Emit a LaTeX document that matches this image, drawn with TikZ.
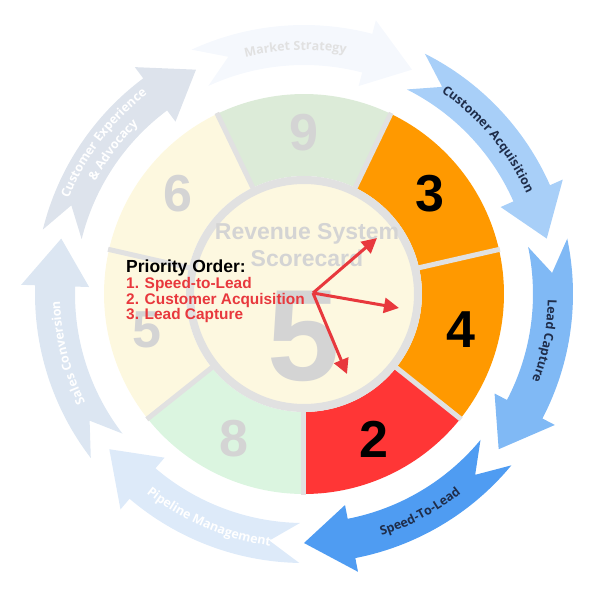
\documentclass[tikz,border=0pt]{standalone}
\usepackage{fontspec}
\setmainfont{Liberation Sans}
\newfontfamily\arcfont{Open Sans}
\usetikzlibrary{arrows.meta, decorations.text}

\definecolor{segorange}{HTML}{FF9900}
\definecolor{segred}{HTML}{FF3636}
\definecolor{seggreen}{HTML}{DCEBD8}
\definecolor{segmint}{HTML}{DBF5E0}
\definecolor{segcream}{HTML}{FDF8DF}
\definecolor{hubcream}{HTML}{FDF8E0}
\definecolor{gapgrey}{HTML}{E1E1E1}
\definecolor{fadenum}{HTML}{D4D4D4}
\definecolor{prioRed}{HTML}{E8383D}
\definecolor{navy}{HTML}{1F2D4A}
\definecolor{blueA}{HTML}{A8CFF8}
\definecolor{blueB}{HTML}{80B9F5}
\definecolor{blueC}{HTML}{4F9CF2}
\definecolor{paleA}{HTML}{F5F8FD}
\definecolor{paleB}{HTML}{DDE3EC}
\definecolor{paleC}{HTML}{DCE6F2}
\definecolor{paleD}{HTML}{DDEAF9}

\tikzset{
  segnum/.style = {font=\bfseries\fontsize{52}{52}\selectfont},
  arclabel/.style 2 args = {decorate, decoration={text along path, text align=center,
      text={|\arcfont\bfseries\fontsize{12.5}{12.5}\selectfont\color{#1}|#2}}},
  pointer/.style = {prioRed, line width=3pt, -{Triangle[length=15pt, width=15pt]}}
}

% ring arrow: tail angle, head angle, colour
\newcommand\ringarrow[3]{
  \fill[#3] ({#1-1}:269) arc[start angle={#1-1}, end angle={#2+11}, radius=269]
    -- ({#2+11}:283) -- (#2:249) -- ({#2+11}:215) -- ({#2+11}:229)
    arc[start angle={#2+11}, end angle={#1-1}, radius=229] -- ({#1-8}:249) -- cycle;
}

\begin{document}
\begin{tikzpicture}[x=1pt, y=1pt]
\useasboundingbox (-304,-306) rectangle (296,294);

% outer cycle of arrows
\ringarrow{115.71}{64.29}{paleA}
\ringarrow{64.29}{12.86}{blueA}
\ringarrow{12.86}{-38.57}{blueB}
\ringarrow{-38.57}{-90}{blueC}
\ringarrow{-90}{-141.43}{paleD}
\ringarrow{218.57}{167.14}{paleC}
\ringarrow{167.14}{115.71}{paleB}

\path[arclabel={gapgrey}{Market Strategy}]
  (112:244) arc[start angle=112, end angle=72, radius=244];
\path[arclabel={navy}{Customer Acquisition}]
  (62:244) arc[start angle=62, end angle=18, radius=244];
\path[arclabel={navy}{Lead Capture}]
  (11:244) arc[start angle=11, end angle=-33, radius=244];
\path[arclabel={navy}{Speed-To-Lead}]
  (-84:254) arc[start angle=-84, end angle=-40, radius=254];
\path[arclabel={white}{Pipeline Management}]
  (-136:254) arc[start angle=-136, end angle=-90, radius=254];
\path[arclabel={white}{Sales Conversion}]
  (216:244) arc[start angle=216, end angle=172, radius=244];
\path[arclabel={white}{Customer Experience}]
  (166:254) arc[start angle=166, end angle=120, radius=254];
\path[arclabel={white}{{\&} Advocacy}]
  (166:237) arc[start angle=166, end angle=120, radius=237];

% scorecard segments
\foreach \a/\col/\num/\txt in {12.86/segorange/3/black, 64.29/seggreen/9/fadenum,
    115.71/segcream/6/fadenum, 167.14/segcream/5/fadenum, 218.57/segmint/8/fadenum,
    270/segred/2/black, 321.43/segorange/4/black}{
  \fill[\col] (\a:118) arc[start angle=\a, end angle={\a+51.43}, radius=118]
    -- ({\a+51.43}:200) arc[start angle={\a+51.43}, end angle=\a, radius=200] -- cycle;
  \node[segnum, text=\txt] (seg\num) at ({\a+25.7}:161) {\num};
}
\foreach \a in {12.86, 64.29, 115.71, 167.14, 218.57, 270, 321.43}
  \draw[gapgrey, line width=5pt] (\a:114) -- (\a:201);

% hub
\fill[hubcream] (0,0) circle (114);
\draw[gapgrey, line width=8pt] (0,0) circle (114);
\node[text=fadenum, font=\bfseries\fontsize{130}{130}\selectfont] (bigfive) at (0,-42) {5};
\node[text=fadenum, font=\bfseries\fontsize{23}{27}\selectfont, align=center]
  (title) at (3,49) {Revenue System\\Scorecard};

% priority list
\node[anchor=north west, align=left, inner sep=0pt] (prio) at (-178,34)
  {\fontsize{17.5}{18.5}\selectfont\bfseries Priority Order:\\
   \color{prioRed}\fontsize{15.4}{18.5}\selectfont\bfseries 1. Speed-to-Lead\\
   \color{prioRed}\fontsize{15.4}{18.5}\selectfont\bfseries 2. Customer Acquisition\\
   \color{prioRed}\fontsize{15.4}{18.5}\selectfont\bfseries 3. Lead Capture};

\coordinate (pivot) at (9,1);
\coordinate (toThree) at (73,56);
\coordinate (toFour) at (95,-14);
\coordinate (toTwo) at (43,-80);
\draw[pointer] (pivot) -- (toThree);
\draw[pointer] (pivot) -- (toFour);
\draw[pointer] (pivot) -- (toTwo);
\end{tikzpicture}
\end{document}
